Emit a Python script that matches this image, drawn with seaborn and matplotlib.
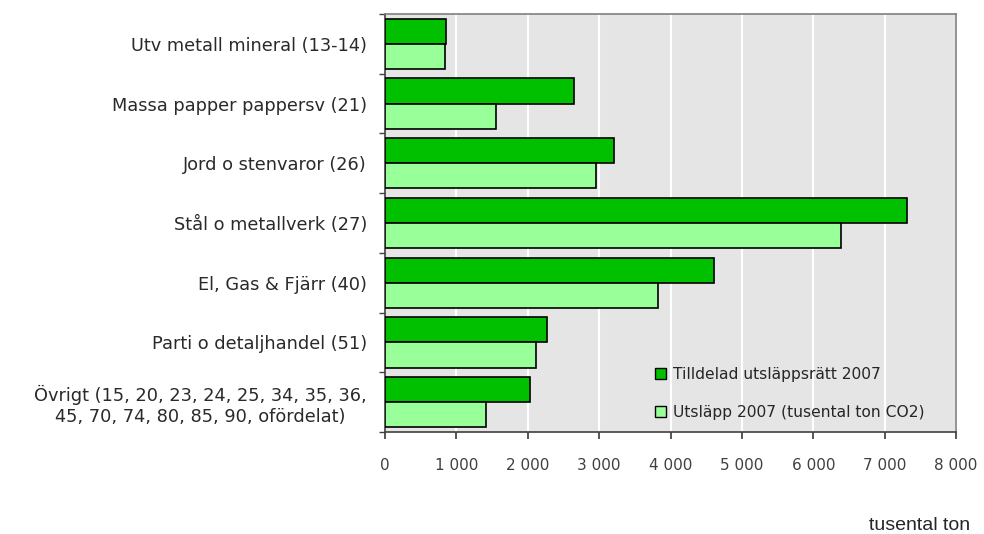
"""
Tilldelad utsläppsrätt vs utsläpp 2007 per bransch.
"""

import pandas as pd
import matplotlib.pyplot as plt
import seaborn as sns
from matplotlib.ticker import FuncFormatter, FixedLocator

sns.set_theme(style="white")
plt.rcParams['font.family'] = ['DejaVu Sans']

# data (tusental ton CO2)
categories = [
    'Utv metall mineral (13-14)',
    'Massa papper pappersv (21)',
    'Jord o stenvaror (26)',
    'Stål o metallverk (27)',
    'El, Gas & Fjärr (40)',
    'Parti o detaljhandel (51)',
    'Övrigt (15, 20, 23, 24, 25, 34, 35, 36,\n45, 70, 74, 80, 85, 90, ofördelat)',
]
tilldelad = [850, 2645, 3205, 7315, 4610, 2265, 2027]
utslapp = [835, 1550, 2950, 6390, 3830, 2112, 1412]
series = ['Tilldelad utsläppsrätt 2007', 'Utsläpp 2007 (tusental ton CO2)']
colors = ['#00c000', '#99ff99']
x_ticks = [0, 1000, 2000, 3000, 4000, 5000, 6000, 7000, 8000]

df = pd.DataFrame({
    'bransch': categories * 2,
    'serie': [series[0]] * len(categories) + [series[1]] * len(categories),
    'varde': tilldelad + utslapp,
})

fig = plt.figure(figsize=(9.84, 5.34), dpi=100)
ax = fig.add_axes([385 / 984, 1 - 432 / 534, (956 - 385) / 984, (432 - 14) / 534])
ax.set_facecolor('#e5e5e5')

sns.barplot(data=df, y='bransch', x='varde', hue='serie', hue_order=series,
            order=categories, palette=colors, orient='h', width=0.84,
            edgecolor='black', linewidth=1.2, ax=ax, saturation=1, zorder=3)

ax.set_xlim(0, 8000)
ax.set_ylim(len(categories) - 0.5, -0.5)
ax.xaxis.set_major_locator(FixedLocator(x_ticks))
ax.xaxis.set_major_formatter(FuncFormatter(lambda v, p: f'{int(v):,}'.replace(',', ' ')))
ax.grid(axis='x', color='white', linewidth=1.5, zorder=0)
ax.set_axisbelow(True)
ax.set_xlabel('')
ax.set_ylabel('')

# tick styling
ax.tick_params(axis='x', which='major', direction='out', length=5, color='#404040',
               labelsize=11, labelcolor='#404040', pad=14, bottom=True)
ax.tick_params(axis='y', which='major', length=0, labelsize=12.8, labelcolor='#2a2a2a', pad=13)
ax.set_yticks([i - 0.5 for i in range(len(categories) + 1)], minor=True)
ax.tick_params(axis='y', which='minor', direction='out', length=4, left=True, color='#404040')
for lbl in ax.get_yticklabels():
    lbl.set_multialignment('center')

for side in ['left', 'bottom']:
    ax.spines[side].set_color('#404040')
    ax.spines[side].set_linewidth(1.2)
for side in ['top', 'right']:
    ax.spines[side].set_color('#808080')
    ax.spines[side].set_linewidth(1.2)

leg = ax.legend(loc='lower left', bbox_to_anchor=(0.448, -0.005), frameon=False,
                handlelength=0.7, handleheight=0.7, handletextpad=0.5,
                labelspacing=1.5, fontsize=11.2)
for h in leg.legend_handles:
    h.set_edgecolor('black')
    h.set_linewidth(1)

fig.text(970 / 984, 1 - 525 / 534, 'tusental ton', ha='right', va='center',
         fontsize=14, family='Liberation Sans')

fig.savefig('out.png', dpi=100)
plt.close(fig)
